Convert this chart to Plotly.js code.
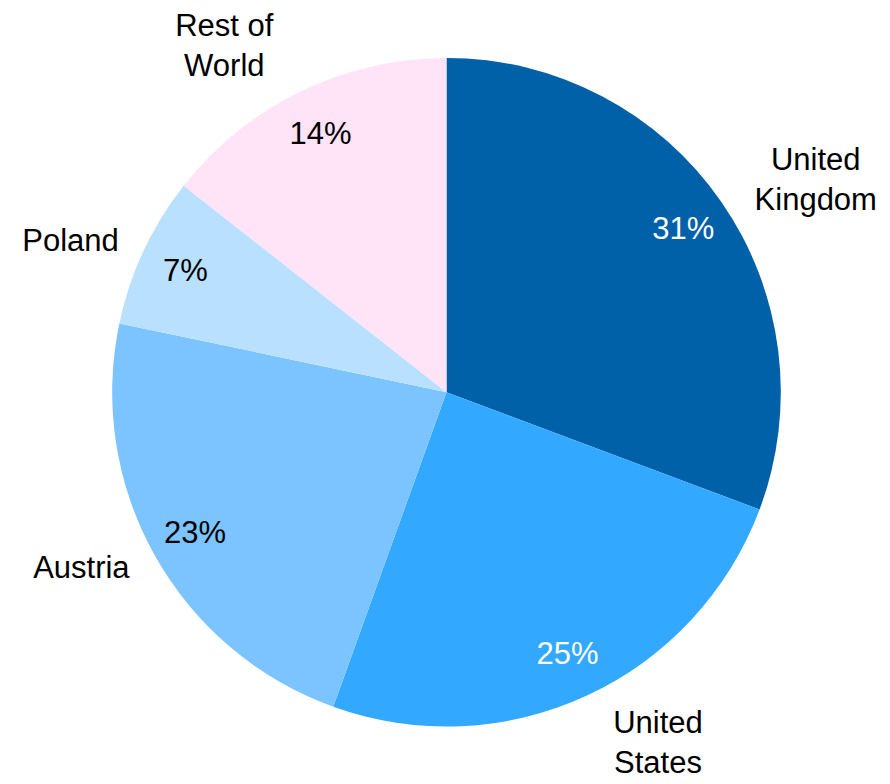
<!DOCTYPE html>
<html>
<head>
<meta charset="utf-8">
<script src="https://cdn.plot.ly/plotly-3.0.1.min.js"></script>
<style>html,body{margin:0;padding:0;background:#fff;}#chart{width:890px;height:784px;}</style>
</head>
<body>
<div id="chart"></div>
<script>
// ---- data ----
var categories = ['United Kingdom', 'United States', 'Austria', 'Poland', 'Rest of World'];
var labelLines = ['United<br>Kingdom', 'United<br>States', 'Austria', 'Poland', 'Rest of<br>World'];
var shares = [30.7, 24.8, 22.8, 7.3, 14.4];
var sliceColors = ['#0060A8', '#33A8FF', '#7BC4FF', '#BAE0FF', '#FFE4F8'];
var percentColors = ['#FFFFFF', '#FFFFFF', '#000000', '#000000', '#000000'];

// ---- layout helpers (pixels -> paper domain) ----
var W = 890, H = 784;
var cx = 446.5, cy = 392.2;
function dom(r) {
  return {x: [(cx - r) / W, (cx + r) / W], y: [(H - (cy + r)) / H, (H - (cy - r)) / H]};
}
var FONT = 'Liberation Sans, Arial, sans-serif';
var FS = 31;
var clear = categories.map(function () { return 'rgba(0,0,0,0)'; });

var mainPie = {
  type: 'pie', labels: categories, values: shares, sort: false,
  direction: 'clockwise', rotation: 0, domain: dom(334.3),
  marker: {colors: sliceColors, line: {width: 0}},
  textinfo: 'none', hoverinfo: 'label+percent', showlegend: false
};

var pctR = 340, pctMid = 288;
var percentRing = {
  type: 'pie', labels: categories, values: shares, sort: false,
  direction: 'clockwise', rotation: 0, domain: dom(pctR),
  hole: (2 * pctMid - pctR) / pctR,
  marker: {colors: clear, line: {width: 0}},
  texttemplate: '%{percent:.0%}', textposition: 'inside',
  insidetextorientation: 'horizontal',
  insidetextfont: {family: FONT, size: FS, color: percentColors},
  hoverinfo: 'skip', showlegend: false
};

var labelPie = {
  type: 'pie', labels: categories, values: shares, sort: false,
  direction: 'clockwise', rotation: 0, domain: dom(352),
  marker: {colors: clear, line: {width: 0}},
  text: labelLines, textinfo: 'text', textposition: 'outside',
  outsidetextfont: {family: FONT, size: FS, color: '#000000'},
  hoverinfo: 'skip', showlegend: false
};

Plotly.newPlot('chart', [mainPie, percentRing, labelPie], {
  width: W, height: H,
  margin: {l: 0, r: 0, t: 0, b: 0, pad: 0},
  paper_bgcolor: '#ffffff',
  font: {family: FONT, size: FS, color: '#000000'},
  showlegend: false
}, {displayModeBar: false, staticPlot: true});
</script>
</body>
</html>
